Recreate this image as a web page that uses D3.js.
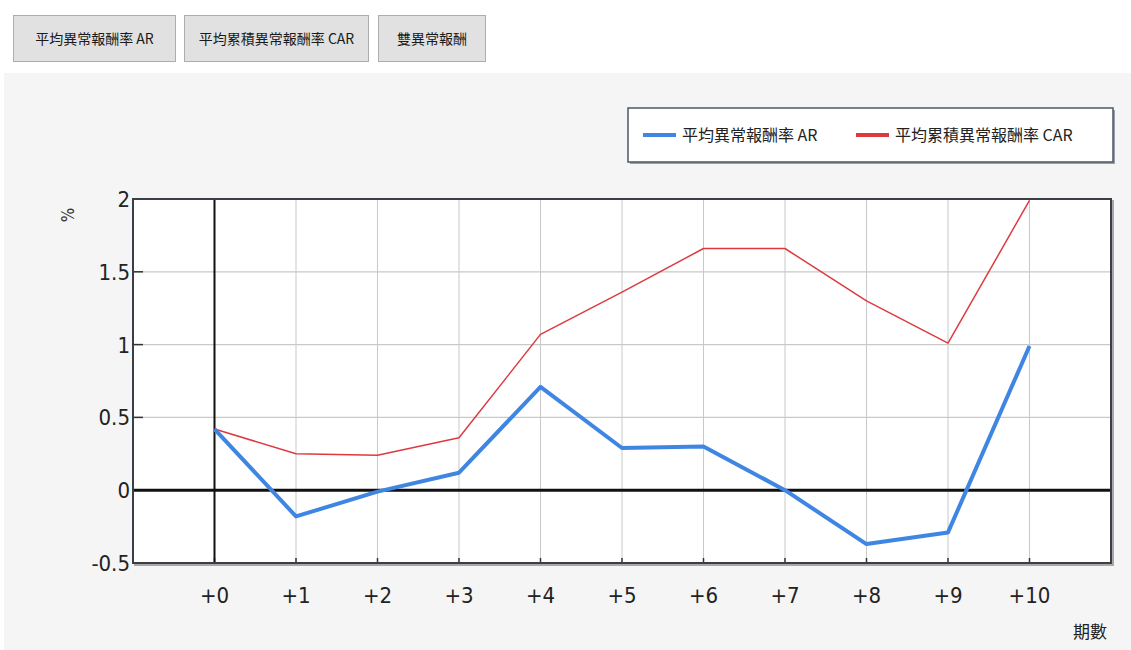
<!DOCTYPE html>
<html>
<head>
<meta charset="utf-8">
<script src="https://cdn.jsdelivr.net/npm/d3@7/dist/d3.min.js"></script>
<style>
  html, body { margin: 0; padding: 0; background: #ffffff; }
  svg { display: block; }
  .narrow { font-family: 'DejaVu Sans', sans-serif; font-stretch: condensed; }
</style>
</head>
<body>
<svg id="chart" width="1131" height="650"></svg>
<script>
// Event periods and series (percent)
const periods = [0, 1, 2, 3, 4, 5, 6, 7, 8, 9, 10];
const periodLabels = ["+0", "+1", "+2", "+3", "+4", "+5", "+6", "+7", "+8", "+9", "+10"];
const arValues  = [0.42, -0.18, -0.01, 0.12, 0.71, 0.29, 0.30, 0.00, -0.37, -0.29, 0.99];
const carValues = [0.42, 0.25, 0.24, 0.36, 1.07, 1.36, 1.66, 1.66, 1.30, 1.01, 1.99];
const yTicks = [-0.5, 0, 0.5, 1, 1.5, 2];
const yTickLabels = ["-0.5", "0", "0.5", "1", "1.5", "2"];
const buttonLabels = ["平均異常報酬率 AR", "平均累積異常報酬率 CAR", "雙異常報酬"];
const seriesNames = ["平均異常報酬率 AR", "平均累積異常報酬率 CAR"];
const seriesColors = ["#3f86e2", "#dd3a40"];

const svg = d3.select("#chart");
const cjk = "'Noto Sans CJK TC', 'Noto Sans', sans-serif";

// Tab buttons
const btnX = d3.scaleOrdinal().domain(buttonLabels).range([13, 184, 378]);
const btnW = d3.scaleOrdinal().domain(buttonLabels).range([162, 184, 107]);
const btn = svg.selectAll("g.btn").data(buttonLabels).join("g")
  .attr("class", "btn")
  .attr("transform", d => `translate(${btnX(d)},15)`);
btn.append("rect")
  .attr("x", 0.5).attr("y", 0.5)
  .attr("width", d => btnW(d)).attr("height", 46)
  .attr("fill", "#e1e1e1").attr("stroke", "#adadad");
btn.append("text")
  .attr("x", d => btnW(d) / 2 + 0.5).attr("y", 29)
  .attr("text-anchor", "middle")
  .attr("font-family", cjk).attr("font-size", 14)
  .attr("fill", "#1a1a1a")
  .text(d => d);

// Chart panel background
svg.append("rect")
  .attr("x", 4).attr("y", 73).attr("width", 1127).attr("height", 577)
  .attr("fill", "#f5f5f5");

// Plot geometry
const pLeft = 133, pRight = 1111, pTop = 199, pBottom = 563;
const x = d3.scaleLinear().domain([-1, 11]).range([pLeft, pRight]);
const y = d3.scaleLinear().domain([-0.5, 2]).range([pBottom, pTop]);

// Frame shadow and plot background
svg.append("rect")
  .attr("x", pLeft + 2).attr("y", pTop + 2)
  .attr("width", pRight - pLeft).attr("height", pBottom - pTop)
  .attr("fill", "none").attr("stroke", "#a8a8a8").attr("stroke-width", 2);
svg.append("rect")
  .attr("x", pLeft).attr("y", pTop)
  .attr("width", pRight - pLeft).attr("height", pBottom - pTop)
  .attr("fill", "#ffffff");

// Grid
const grid = svg.append("g");
grid.selectAll("line.gx").data(periods).join("line")
  .attr("x1", d => x(d)).attr("x2", d => x(d))
  .attr("y1", pTop).attr("y2", pBottom)
  .attr("stroke", "#c9c9c9").attr("stroke-width", 1);
grid.selectAll("line.gy").data(yTicks.filter(v => v !== 0 && v > -0.5 && v < 2)).join("line")
  .attr("x1", pLeft).attr("x2", pRight)
  .attr("y1", d => y(d)).attr("y2", d => y(d))
  .attr("stroke", "#c9c9c9").attr("stroke-width", 1.2);

// Short tick marks along the left and bottom edges
svg.append("g").selectAll("line").data(yTicks.filter(v => v > -0.5 && v < 2)).join("line")
  .attr("x1", pLeft).attr("x2", pLeft + 10)
  .attr("y1", d => y(d)).attr("y2", d => y(d))
  .attr("stroke", "#333").attr("stroke-width", 1.5);
svg.append("g").selectAll("line").data(periods).join("line")
  .attr("x1", d => x(d)).attr("x2", d => x(d))
  .attr("y1", pBottom - 5).attr("y2", pBottom)
  .attr("stroke", "#333").attr("stroke-width", 1.5);

// Zero axes
svg.append("line")
  .attr("x1", x(0)).attr("x2", x(0)).attr("y1", pTop).attr("y2", pBottom)
  .attr("stroke", "#111").attr("stroke-width", 2);
svg.append("line")
  .attr("x1", pLeft).attr("x2", pRight).attr("y1", y(0)).attr("y2", y(0))
  .attr("stroke", "#111").attr("stroke-width", 3);

// Series lines
const line = d3.line().x((d, i) => x(periods[i])).y(d => y(d));
svg.append("path").datum(carValues)
  .attr("d", line).attr("fill", "none")
  .attr("stroke", seriesColors[1]).attr("stroke-width", 1.5)
  .attr("stroke-linejoin", "round");
svg.append("path").datum(arValues)
  .attr("d", line).attr("fill", "none")
  .attr("stroke", seriesColors[0]).attr("stroke-width", 4)
  .attr("stroke-linejoin", "round");

// Plot frame
svg.append("rect")
  .attr("x", pLeft).attr("y", pTop)
  .attr("width", pRight - pLeft).attr("height", pBottom - pTop)
  .attr("fill", "none").attr("stroke", "#3a3f47").attr("stroke-width", 2);

// Y axis labels
svg.append("g").selectAll("text").data(yTicks).join("text")
  .attr("class", "narrow")
  .attr("x", pLeft - 3).attr("y", d => y(d))
  .attr("dy", "0.36em")
  .attr("text-anchor", "end")
  .attr("font-size", 22)
  .attr("fill", "#222")
  .text((d, i) => yTickLabels[i]);

// X axis labels
svg.append("g").selectAll("text").data(periods).join("text")
  .attr("class", "narrow")
  .attr("x", d => x(d)).attr("y", 595)
  .attr("dy", "0.36em")
  .attr("text-anchor", "middle")
  .attr("font-size", 22)
  .attr("fill", "#222")
  .text((d, i) => periodLabels[i]);

// Axis titles
svg.append("text")
  .attr("class", "narrow")
  .attr("transform", "translate(68,215) rotate(-90)")
  .attr("text-anchor", "middle").attr("dy", "0.35em")
  .attr("font-size", 17)
  .attr("fill", "#333")
  .text("%");
svg.append("text")
  .attr("x", 1090).attr("y", 632)
  .attr("dy", "0.35em")
  .attr("text-anchor", "middle")
  .attr("font-family", cjk).attr("font-size", 17)
  .attr("fill", "#222")
  .text("期數");

// Legend
const lg = svg.append("g").attr("transform", "translate(628,108)");
lg.append("rect").attr("x", 2).attr("y", 2).attr("width", 485).attr("height", 54)
  .attr("fill", "#9aa0a8");
lg.append("rect").attr("x", 0).attr("y", 0).attr("width", 485).attr("height", 54)
  .attr("fill", "#ffffff").attr("stroke", "#4d5766").attr("stroke-width", 1.5);
const legX = [15, 228];
const item = lg.selectAll("g.item").data(seriesNames).join("g")
  .attr("class", "item")
  .attr("transform", (d, i) => `translate(${legX[i]},27)`);
item.append("line")
  .attr("x1", 0).attr("x2", 33).attr("y1", 0).attr("y2", 0)
  .attr("stroke", (d, i) => seriesColors[i]).attr("stroke-width", 4);
item.append("text")
  .attr("x", 39).attr("dy", "0.36em")
  .attr("font-family", cjk).attr("font-size", 16)
  .attr("fill", "#222")
  .text(d => d);
</script>
</body>
</html>
